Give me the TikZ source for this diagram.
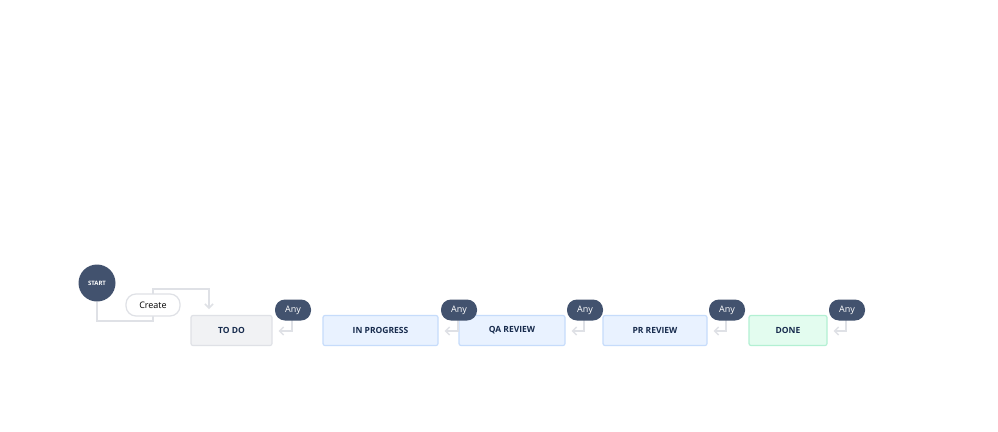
\documentclass[tikz,border=0pt]{standalone}
\usepackage{fontspec}
\setmainfont{Open Sans}
\usetikzlibrary{positioning,arrows.meta}
\definecolor{navy}{HTML}{42526E}
\definecolor{wire}{HTML}{DFE1E6}
\definecolor{ink}{HTML}{172B4D}
\definecolor{bluefill}{HTML}{E9F2FF}
\definecolor{blueline}{HTML}{C6DCFB}
\definecolor{greenfill}{HTML}{E3FCEF}
\definecolor{greenline}{HTML}{B3F0D3}
\definecolor{grayfill}{HTML}{F1F2F4}
\tikzset{
    status/.style={draw, line width=1.2pt, rounded corners=2pt, minimum height=30pt,
        font=\fontsize{8.5}{10}\selectfont\bfseries, text=ink},
    todo/.style={status, fill=grayfill, draw=wire},
    prog/.style={status, fill=bluefill, draw=blueline},
    done/.style={status, fill=greenfill, draw=greenline},
    anypill/.style={fill=navy, text=white, rounded corners=10pt, minimum width=36pt,
        minimum height=21pt, font=\fontsize{9}{10}\selectfont},
    wirearrow/.style={draw=wire, line width=1.5pt, ->, >={Straight Barb[length=4pt,width=8pt]}},
}
\begin{document}
\begin{tikzpicture}[x=1pt, y=-1pt]
        \useasboundingbox[fill=white] (0,0) rectangle (998,431);
        \node[circle, fill=navy, text=white, minimum size=37pt, inner sep=0pt,
            font=\fontsize{6}{7}\selectfont\bfseries] (start) at (97,283) {START};
        % statuses
        \node[todo, minimum width=81pt] (todo) at (231.5,330.5) {TO DO};
        \node[prog, minimum width=115pt] (inprog) at (380.5,330.5) {IN PROGRESS};
        \node[prog, minimum width=106pt] (qa) at (512,330.5) {QA REVIEW};
        \node[prog, minimum width=104pt] (pr) at (655,330.5) {PR REVIEW};
        \node[done, minimum width=78pt] (done) at (788,330.5) {DONE};
        % create transition
        \coordinate (c1) at (97,321);
        \coordinate (c2) at (153,321);
        \coordinate (c3) at (153,289);
        \coordinate (c4) at (209,289);
        \coordinate (c5) at (209,309);
        \draw[wirearrow] (start) -- (c1) -- (c2) -- (c3) -- (c4) -- (c5);
        \node[draw=wire, line width=1.2pt, fill=white, rounded corners=10pt, minimum width=54pt,
            minimum height=22pt, font=\fontsize{9}{10}\selectfont] (create) at (153,305) {Create};
        % global transitions
        \foreach \st/\x in {todo/293, inprog/459, qa/585, pr/727, done/847} {
            \coordinate (bend-\st) at (\x-1,331);
            \draw[wirearrow] (\x-1,318) -- (bend-\st) -- ([xshift=6pt]\st.east |- bend-\st);
            \node[anypill] (any-\st) at (\x,310) {Any};
        }
\end{tikzpicture}
\end{document}
